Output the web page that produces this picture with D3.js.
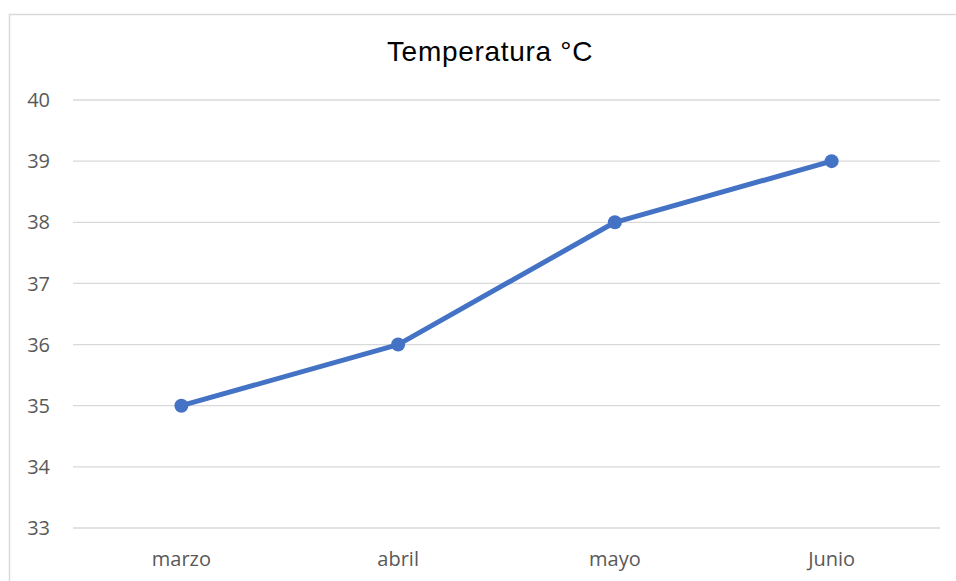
<!DOCTYPE html>
<html>
<head>
<meta charset="utf-8">
<script src="https://cdn.jsdelivr.net/npm/d3@7"></script>
<style>
body { margin: 0; background: #fff; }
</style>
</head>
<body>
<script>
// data
var months = ["marzo", "abril", "mayo", "Junio"];
var temps = [35, 36, 38, 39];
var yTicks = [33, 34, 35, 36, 37, 38, 39, 40];

var width = 956, height = 581;

var svg = d3.select("body").append("svg")
  .attr("width", width)
  .attr("height", height);

// chart border (runs off the right and bottom edge)
svg.append("rect")
  .attr("x", 9.5).attr("y", 14.5)
  .attr("width", 960).attr("height", 600)
  .attr("fill", "none")
  .attr("stroke", "#d9d9d9")
  .attr("stroke-width", 1.5);

// scales
var xScale = d3.scaleBand().domain(months).range([73, 940]);
var yScale = d3.scaleLinear().domain([33, 40]).range([528, 100]);

// grid
svg.append("g").selectAll("line")
  .data(yTicks)
  .enter().append("line")
  .attr("x1", 73).attr("x2", 940)
  .attr("y1", d => yScale(d)).attr("y2", d => yScale(d))
  .attr("stroke", "#d9d9d9")
  .attr("stroke-width", 1.3);

// y labels
svg.append("g").selectAll("text")
  .data(yTicks)
  .enter().append("text")
  .attr("x", 50)
  .attr("y", d => yScale(d))
  .attr("dy", "0.36em")
  .attr("text-anchor", "end")
  .attr("font-family", "'Open Sans', sans-serif")
  .attr("font-size", 20)
  .attr("fill", "#595959")
  .text(d => d);

// x labels
svg.append("g").selectAll("text")
  .data(months)
  .enter().append("text")
  .attr("x", d => xScale(d) + xScale.bandwidth() / 2)
  .attr("y", 566)
  .attr("text-anchor", "middle")
  .attr("font-family", "'Open Sans', sans-serif")
  .attr("font-size", 20)
  .attr("fill", "#595959")
  .text(d => d);

// title
svg.append("text")
  .attr("x", 490).attr("y", 61)
  .attr("text-anchor", "middle")
  .attr("font-family", "'Liberation Sans', Arial, sans-serif")
  .attr("font-size", 28)
  .attr("letter-spacing", 0.7)
  .attr("fill", "#000")
  .text("Temperatura °C");

// line
var line = d3.line()
  .x((d, i) => xScale(months[i]) + xScale.bandwidth() / 2)
  .y(d => yScale(d));

svg.append("path")
  .datum(temps)
  .attr("d", line)
  .attr("fill", "none")
  .attr("stroke", "#4472c4")
  .attr("stroke-width", 5)
  .attr("stroke-linejoin", "round")
  .attr("stroke-linecap", "round");

svg.append("g").selectAll("circle")
  .data(temps)
  .enter().append("circle")
  .attr("cx", (d, i) => xScale(months[i]) + xScale.bandwidth() / 2)
  .attr("cy", d => yScale(d))
  .attr("r", 7)
  .attr("fill", "#4472c4");
</script>
</body>
</html>
